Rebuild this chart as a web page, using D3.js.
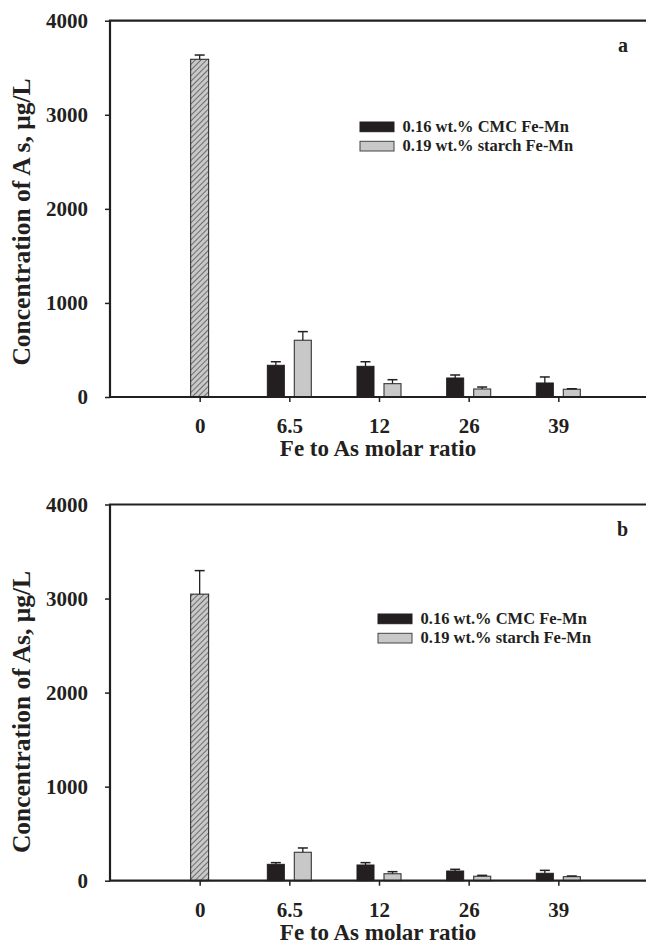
<!DOCTYPE html>
<html>
<head>
<meta charset="utf-8">
<script src="https://cdn.jsdelivr.net/npm/d3@7"></script>
<style>
  body { margin: 0; background: #fff; }
  svg { display: block; }
  text { font-family: "Liberation Serif", "Times New Roman", serif; font-weight: bold; fill: #231f20; }
</style>
</head>
<body>
<div id="chart-area"><svg></svg></div>
<script>
const ratios = ['0', '6.5', '12', '26', '39'];
const yTicks = [0, 1000, 2000, 3000, 4000];
const seriesNames = ['0.16 wt.% CMC Fe-Mn', '0.19 wt.% starch Fe-Mn'];

// panel a
const blankA = [3590, 45];
const cmcA = [337, 326, 202, 149];
const cmcErrA = [38, 49, 32, 64];
const starchA = [603, 142, 85, 82];
const starchErrA = [92, 42, 21, 6];

// panel b
const blankB = [3047, 250];
const cmcB = [174, 167, 103, 79];
const cmcErrB = [18, 25, 18, 31];
const starchB = [302, 74, 47, 43];
const starchErrB = [46, 22, 10, 7];

const chartSize = { width: 646, height: 945 };
const ink = '#231f20';
const grey = '#c8c8c8';

const panels = [
  { tag: 'a', top: 20.7, zero: 397, yLabel: 'Concentration of A s,  \u03bcg/L', labelY: 222,
    legendX: 360, legendY: 122, blank: blankA, cmc: cmcA, cmcErr: cmcErrA, starch: starchA, starchErr: starchErrA },
  { tag: 'b', top: 504.5, zero: 880.7, yLabel: 'Concentration of As,  \u03bcg/L', labelY: 712,
    legendX: 378, legendY: 614, blank: blankB, cmc: cmcB, cmcErr: cmcErrB, starch: starchB, starchErr: starchErrB }
];

const svg = d3.select('#chart-area svg')
  .attr('width', chartSize.width)
  .attr('height', chartSize.height);

const defs = svg.append('defs');
const hatch = defs.append('pattern')
  .attr('id', 'hatch')
  .attr('patternUnits', 'userSpaceOnUse')
  .attr('width', 4).attr('height', 4)
  .attr('patternTransform', 'rotate(45)');
hatch.append('rect').attr('width', 4).attr('height', 4).attr('fill', grey);
hatch.append('line').attr('x1', 0).attr('y1', 0).attr('x2', 0).attr('y2', 4)
  .attr('stroke', ink).attr('stroke-width', 1.1);

const x = d3.scaleLinear().domain([-1, 5]).range([110, 648]);
const barW = 17;
const offset = 13.5;

const errorBar = (g, cx, y, v, e) => {
  g.append('line')
    .attr('x1', cx).attr('x2', cx)
    .attr('y1', y(v)).attr('y2', y(v + e))
    .attr('stroke', ink).attr('stroke-width', 1.3);
  g.append('line')
    .attr('x1', cx - 5).attr('x2', cx + 5)
    .attr('y1', y(v + e)).attr('y2', y(v + e))
    .attr('stroke', ink).attr('stroke-width', 1.5);
};

const drawPanel = (p) => {
  const y = d3.scaleLinear().domain([0, 4000]).range([p.zero, p.top]);
  const g = svg.append('g');

  // bars
  const bars = g.append('g');
  bars.append('rect')
    .attr('x', x(0) - 9).attr('width', 18)
    .attr('y', y(p.blank[0])).attr('height', y(0) - y(p.blank[0]))
    .attr('fill', 'url(#hatch)').attr('stroke', ink).attr('stroke-width', 1);
  errorBar(bars, x(0), y, p.blank[0], p.blank[1]);

  p.cmc.forEach((v, i) => {
    const cx = x(i + 1) - offset;
    bars.append('rect')
      .attr('x', cx - barW / 2).attr('width', barW)
      .attr('y', y(v)).attr('height', y(0) - y(v))
      .attr('fill', ink).attr('stroke', ink).attr('stroke-width', 1);
    errorBar(bars, cx, y, v, p.cmcErr[i]);
  });
  p.starch.forEach((v, i) => {
    const cx = x(i + 1) + offset;
    bars.append('rect')
      .attr('x', cx - barW / 2).attr('width', barW)
      .attr('y', y(v)).attr('height', y(0) - y(v))
      .attr('fill', grey).attr('stroke', '#444').attr('stroke-width', 1.2);
    errorBar(bars, cx, y, v, p.starchErr[i]);
  });

  // axes
  const yAxis = d3.axisLeft(y).tickValues(yTicks).tickFormat(d3.format('d'))
    .tickSize(5).tickPadding(17);
  g.append('g').attr('class', 'y axis')
    .attr('transform', `translate(${x(-1)},0)`)
    .call(yAxis)
    .attr('font-family', null)
    .call(a => a.select('.domain').remove())
    .call(a => a.selectAll('line').attr('stroke', ink).attr('stroke-width', 1.5))
    .call(a => a.selectAll('text').attr('font-size', 21).attr('fill', ink));

  const xAxis = d3.axisBottom(x).tickValues(d3.range(ratios.length))
    .tickFormat(i => ratios[i]).tickSize(5).tickPadding(16);
  g.append('g').attr('class', 'x axis')
    .attr('transform', `translate(0,${p.zero})`)
    .call(xAxis)
    .attr('font-family', null)
    .call(a => a.select('.domain').remove())
    .call(a => a.selectAll('line').attr('stroke', ink).attr('stroke-width', 1.5))
    .call(a => a.selectAll('text').attr('font-size', 21).attr('fill', ink));

  // frame: left, top, bottom
  g.append('path')
    .attr('d', `M${x(5)},${p.top}H${x(-1)}V${p.zero}H${x(5)}`)
    .attr('fill', 'none').attr('stroke', ink).attr('stroke-width', 2.2);

  // labels
  g.append('text')
    .attr('transform', `translate(30,${p.labelY}) rotate(-90)`)
    .attr('text-anchor', 'middle')
    .attr('font-size', 25.5)
    .text(p.yLabel);

  g.append('text')
    .attr('x', 378).attr('y', p.zero + 59)
    .attr('text-anchor', 'middle')
    .attr('font-size', 23)
    .text('Fe to As molar ratio');

  g.append('text')
    .attr('x', 628).attr('y', p.top + 31)
    .attr('text-anchor', 'end')
    .attr('font-size', 20)
    .text(p.tag);

  // legend
  const legend = g.append('g').attr('transform', `translate(${p.legendX},${p.legendY})`);
  seriesNames.forEach((name, i) => {
    legend.append('rect')
      .attr('x', 0).attr('y', i * 19.3)
      .attr('width', 34).attr('height', 9.7)
      .attr('fill', i === 0 ? ink : grey)
      .attr('stroke', i === 0 ? ink : '#444').attr('stroke-width', 1);
    legend.append('text')
      .attr('x', 42.5).attr('y', i * 19.3 + 10)
      .attr('font-size', 16.5)
      .text(name);
  });
};

panels.forEach(drawPanel);
</script>
</body>
</html>
